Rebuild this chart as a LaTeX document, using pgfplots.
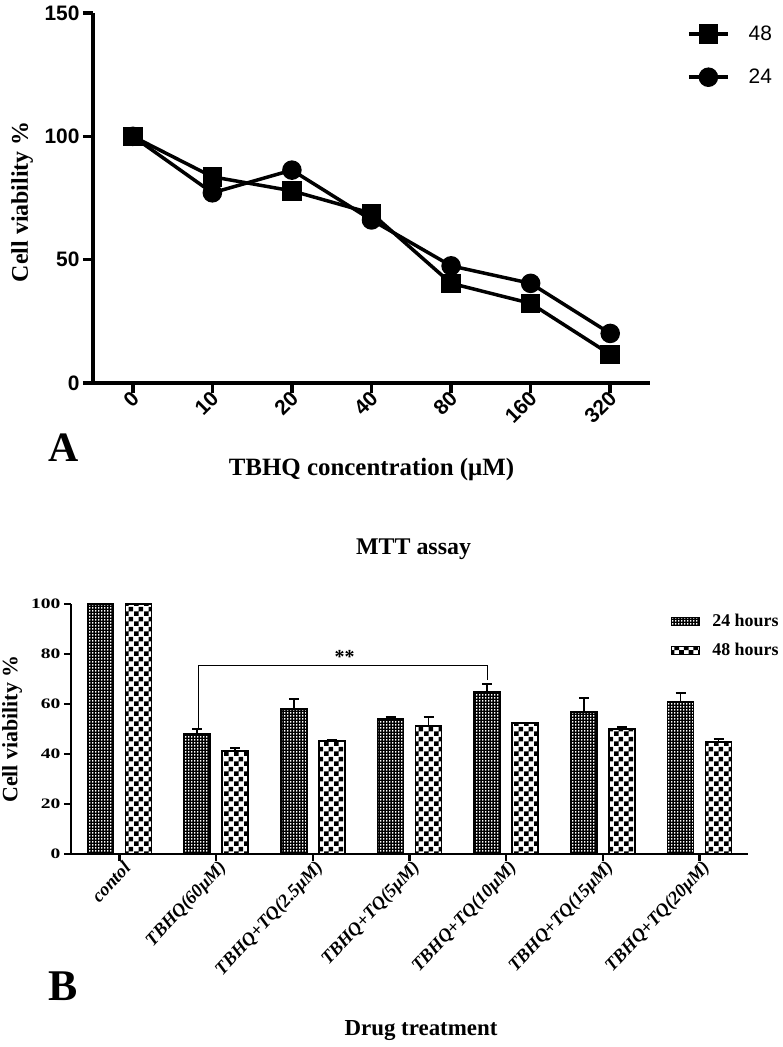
\documentclass[border=0pt]{standalone}
\usepackage{fontspec}
\setmainfont{Liberation Serif}
\newfontfamily\arialfont{Liberation Sans}
\newfontfamily\wideserif[FakeStretch=1.35]{Liberation Serif}
\usepackage{pgfplots}
\usepackage{pgfplotstable}
\pgfplotsset{compat=1.18}
\usetikzlibrary{patterns}

\pgfdeclarepatternformonly{finechk}{\pgfqpoint{0pt}{0pt}}{\pgfqpoint{3pt}{3pt}}{\pgfqpoint{3pt}{3pt}}{%
 \pgfpathrectangle{\pgfqpoint{0pt}{0pt}}{\pgfqpoint{3pt}{1.5pt}}%
 \pgfpathrectangle{\pgfqpoint{1.5pt}{1.5pt}}{\pgfqpoint{1.5pt}{1.5pt}}%
 \pgfusepath{fill}}
\pgfdeclarepatternformonly{coarsechk}{\pgfqpoint{0pt}{0pt}}{\pgfqpoint{9.6pt}{9.6pt}}{\pgfqpoint{9.6pt}{9.6pt}}{%
 \pgfpathrectangle{\pgfqpoint{0pt}{0pt}}{\pgfqpoint{4.8pt}{4.8pt}}%
 \pgfpathrectangle{\pgfqpoint{4.8pt}{4.8pt}}{\pgfqpoint{4.8pt}{4.8pt}}%
 \pgfusepath{fill}}

\pgfplotstableread{
g   y24   e24  y48   e48
0   100   0    100   0
1   48.0  2.0  41.2  1.2
2   58.0  4.0  45.2  0.4
3   54.0  0.8  51.2  3.6
4   64.8  3.2  52.4  0.3
5   56.8  5.6  50.0  0.8
6   60.8  3.6  44.8  1.2
}\bardata

\begin{document}
\begin{tikzpicture}
\path[use as bounding box] (0bp,0bp) rectangle (783bp,-1047bp);

% ---------- Panel A ----------
\begin{axis}[
  at={(93bp,-383bp)}, anchor=south west,
  scale only axis, width=557bp, height=370bp,
  xmin=-0.5, xmax=6.5, ymin=0, ymax=150,
  axis lines=left, axis line style={-, line width=3.5bp},
  every tick/.style={black, line width=3.5bp},
  tick align=outside, major tick length=10bp,
  xtick={0,...,6}, xticklabels={0,10,20,40,80,160,320},
  ytick={0,50,100,150},
  /pgf/number format/assume math mode=true,
  tick label style={font=\arialfont\bfseries\fontsize{21}{21}\selectfont},
  x tick label style={rotate=45, anchor=east, xshift=4bp, yshift=-3bp},
  ylabel={\bfseries Cell viability \%},
  ylabel style={at={(axis description cs:-0.127,0.49)}, anchor=center, font=\fontsize{24}{24}\selectfont},
  xlabel={\bfseries TBHQ concentration (μM)},
  xlabel style={at={(axis description cs:0.5,-0.235)}, anchor=center, font=\fontsize{25}{25}\selectfont},
  legend style={at={(axis description cs:1.061,0.976)}, anchor=north west, draw=none, fill=none,
     font=\arialfont\fontsize{21}{21}\selectfont, row sep=23bp},
  legend cell align=left,
  legend image code/.code={\draw[mark repeat=2,mark phase=2,#1] plot coordinates {(0bp,0bp) (19.5bp,0bp) (39bp,0bp)};},
  clip=false,
]
\addplot[black, line width=3.5bp, mark=square*, mark size=8bp, mark options={solid}]
  coordinates {(0,100) (1,83.6) (2,77.9) (3,68.8) (4,40.4) (5,32.3) (6,11.6)};
\addlegendentry{\hspace{17bp}48}
\addplot[black, line width=3.5bp, mark=*, mark size=8bp, mark options={solid}]
  coordinates {(0,100) (1,77.1) (2,86.3) (3,66.1) (4,47.5) (5,40.4) (6,20.1)};
\addlegendentry{\hspace{17bp}24}
\node[font=\bfseries\fontsize{42}{42}\selectfont] at (axis description cs:-0.052,-0.175) {A};
\end{axis}

% ---------- Panel B ----------
\begin{axis}[
  at={(71bp,-854bp)}, anchor=south west,
  scale only axis, width=677bp, height=250bp,
  xmin=-0.5, xmax=6.5, ymin=0, ymax=100,
  ybar, bar width=26bp,
  axis lines=left, axis line style={-, line width=2.5bp},
  every tick/.style={black, line width=2.5bp},
  tick align=outside, major tick length=7bp,
  xtick={0,...,6},
  xticklabels={contol, TBHQ(60μM), TBHQ+TQ(2.5μM), TBHQ+TQ(5μM), TBHQ+TQ(10μM), TBHQ+TQ(15μM), TBHQ+TQ(20μM)},
  ytick={0,20,40,60,80,100},
  /pgf/number format/assume math mode=true,
  y tick label style={font=\wideserif\bfseries\fontsize{14.5}{14.5}\selectfont},
  x tick label style={rotate=47, anchor=east, xshift=6bp, yshift=-8bp, font=\bfseries\itshape\fontsize{18.5}{18.5}\selectfont},
  ylabel={\bfseries Cell viability \%},
  ylabel style={at={(axis description cs:-0.087,0.5)}, anchor=center, font=\fontsize{22}{22}\selectfont},
  xlabel={\bfseries Drug treatment},
  xlabel style={at={(axis description cs:0.517,-0.708)}, anchor=center, font=\fontsize{23}{23}\selectfont},
  title={\bfseries MTT assay},
  title style={at={(axis description cs:0.506,1.195)}, anchor=center, font=\fontsize{24}{24}\selectfont},
  legend style={at={(axis description cs:0.882,0.975)}, anchor=north west, draw=none, fill=none,
     font=\bfseries\fontsize{18}{18}\selectfont, row sep=11bp},
  legend cell align=left,
  legend image code/.code={\draw[#1, line width=1bp] (0bp,-4bp) rectangle (28bp,4bp);},
  clip=false,
]
\addplot[draw=black, line width=1.5bp, pattern=finechk, bar shift=-19bp,
  error bars/.cd, y dir=plus, y explicit,
  error bar style={line width=1.5bp, black},
  error mark options={rotate=90, mark size=5bp, line width=1.5bp, black}]
  table[x=g, y=y24, y error=e24] {\bardata};
\addlegendentry{\hspace{10bp}24 hours}
\addplot[draw=black, line width=1.5bp, pattern=coarsechk, bar shift=19bp,
  error bars/.cd, y dir=plus, y explicit,
  error bar style={line width=1.5bp, black},
  error mark options={rotate=90, mark size=5bp, line width=1.5bp, black}]
  table[x=g, y=y48, y error=e48] {\bardata};
\addlegendentry{\hspace{10bp}48 hours}
\draw[black, line width=1bp] (axis cs:0.818,50.6) -- (axis cs:0.818,75.6) -- (axis cs:3.81,75.6) -- (axis cs:3.81,69.5);
\node[font=\bfseries\fontsize{20}{20}\selectfont, anchor=south, inner sep=1bp] at (axis cs:2.33,75.8) {**};
\node[font=\bfseries\fontsize{44}{44}\selectfont] at (axis description cs:-0.012,-0.53) {B};
\end{axis}
\end{tikzpicture}
\end{document}
